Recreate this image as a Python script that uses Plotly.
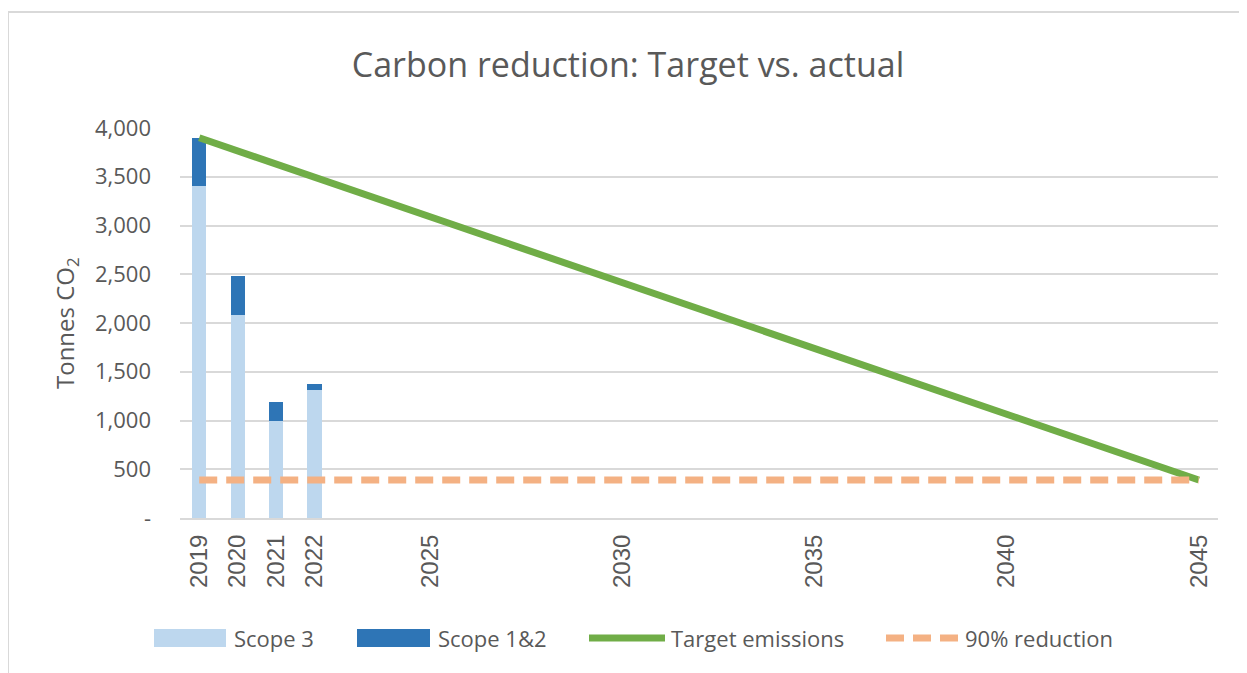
import plotly.graph_objects as go

years = [str(y) for y in range(2019, 2046)]
bar_years = ["2019", "2020", "2021", "2022"]
scope3 = [3410, 2085, 990, 1310]
scope12 = [490, 400, 200, 68]
target = [3900, 3765, 3630, 3495, 3360, 3225, 3090, 2955, 2820, 2685, 2550,
          2405, 2280, 2145, 2010, 1875, 1740, 1605, 1475, 1335, 1200, 1062,
          930, 795, 660, 525, 390]
reduction90 = [390] * len(years)
x_ticks = ["2019", "2020", "2021", "2022", "2025", "2030", "2035", "2040", "2045"]
y_ticks = [0, 500, 1000, 1500, 2000, 2500, 3000, 3500, 4000]
y_ticktext = ["-", "500", "1,000", "1,500", "2,000", "2,500", "3,000", "3,500", "4,000"]

FONT = "Open Sans"
GREY = "#595959"
C_S3, C_S12, C_TGT, C_RED = "#BDD7EE", "#2E75B6", "#70AD47", "#F4B183"
RED_DASH = "18px,9px"

# page is offset by the 8px body margin; layout is expressed in page pixels
OFF = 8
W, H = 1247 - OFF, 673 - OFF
PL, PR, PT, PB = 180, 1218, 128, 518  # plot area in page px


def px(x):
    return (x - PL) / (PR - PL)


def py(y):
    return (PB - y) / (PB - PT)


fig = go.Figure()
fig.add_trace(go.Bar(x=bar_years, y=scope3, name="Scope 3", marker=dict(color=C_S3, line=dict(width=0))))
fig.add_trace(go.Bar(x=bar_years, y=scope12, name="Scope 1&2", marker=dict(color=C_S12, line=dict(width=0))))
fig.add_trace(go.Scatter(x=years, y=target, name="Target emissions", mode="lines",
                         line=dict(color=C_TGT, width=7)))
fig.add_trace(go.Scatter(x=years, y=reduction90, name="90% reduction", mode="lines",
                         line=dict(color=C_RED, width=7, dash=RED_DASH)))

# legend drawn below the plot (wide swatches as in the reference)
legend_items = [
    ("Scope 3", "rect", C_S3, 154, 226, 232),
    ("Scope 1&2", "rect", C_S12, 357, 430, 436),
    ("Target emissions", "line", C_TGT, 589, 665, 669),
    ("90% reduction", "dash", C_RED, 886, 958, 963),
]
LEG_Y = 638
shapes = [dict(type="rect", xref="paper", yref="paper",
               x0=px(8), x1=px(1262), y0=py(690), y1=py(12),
               line=dict(color="#D9D9D9", width=2), layer="below")]
annotations = [dict(text="Tonnes CO<sub>2</sub>", xref="paper", yref="paper",
                    x=px(66), y=py(323), textangle=-90,
                    showarrow=False, xanchor="center", yanchor="middle",
                    font=dict(size=24, color=GREY, family=FONT))]
for name, kind, color, x0, x1, tx in legend_items:
    if kind == "rect":
        shapes.append(dict(type="rect", xref="paper", yref="paper",
                           x0=px(x0), x1=px(x1), y0=py(LEG_Y + 9), y1=py(LEG_Y - 9),
                           fillcolor=color, line=dict(width=0)))
    else:
        shapes.append(dict(type="line", xref="paper", yref="paper",
                           x0=px(x0), x1=px(x1), y0=py(LEG_Y), y1=py(LEG_Y),
                           line=dict(color=color, width=7,
                                     dash=RED_DASH if kind == "dash" else "solid")))
    annotations.append(dict(text=name, xref="paper", yref="paper", x=px(tx), y=py(LEG_Y),
                            xanchor="left", yanchor="middle", showarrow=False,
                            font=dict(size=22, color=GREY, family=FONT)))

fig.update_layout(
    width=W, height=H,
    margin=dict(l=PL - OFF, r=W - (PR - OFF), t=PT - OFF, b=H - (PB - OFF)),
    paper_bgcolor="white", plot_bgcolor="white",
    barmode="stack", bargap=0.63,
    font=dict(family=FONT, color=GREY, size=20),
    title=dict(text="Carbon reduction: Target vs. actual", xref="container", yref="container",
               x=(628 - OFF) / W, y=1 - (65 - OFF) / H, xanchor="center", yanchor="middle",
               font=dict(size=34, color=GREY, family=FONT)),
    showlegend=False,
    xaxis=dict(type="category", categoryorder="array", categoryarray=years,
               range=[-0.5, len(years) - 0.5],
               tickmode="array", tickvals=x_ticks, ticktext=x_ticks, tickangle=-90,
               tickfont=dict(size=24, color=GREY, family="Liberation Sans"), ticklabelstandoff=5,
               showline=True, linecolor="#D9D9D9", linewidth=2, showgrid=False, ticks=""),
    yaxis=dict(range=[0, 4000], tickmode="array", tickvals=y_ticks, ticktext=y_ticktext,
               tickfont=dict(size=22, color=GREY), ticklabelstandoff=28,
               showgrid=True, gridcolor="#D9D9D9", gridwidth=2, zeroline=False, showline=False),
    annotations=annotations,
    shapes=shapes,
)

fig.write_html("out.html")
